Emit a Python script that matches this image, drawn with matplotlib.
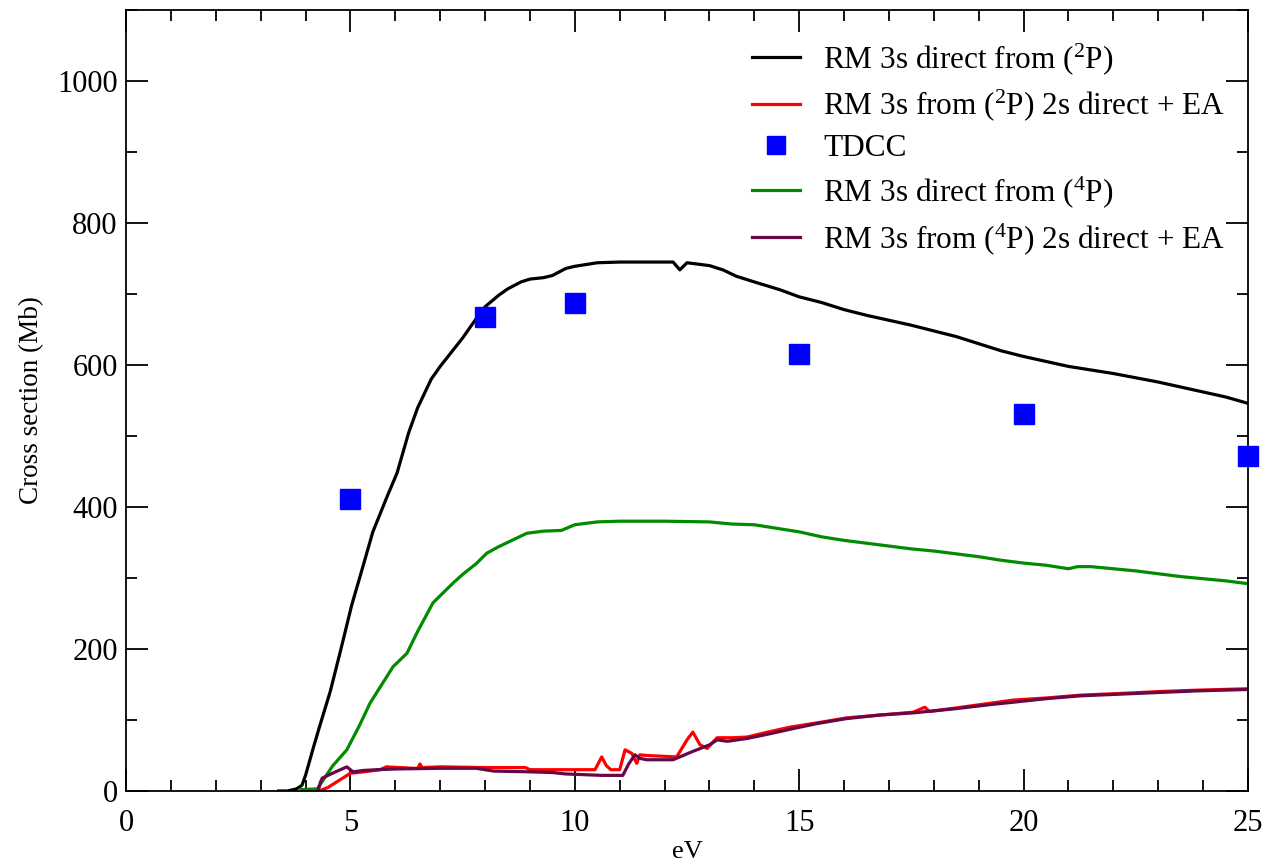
import matplotlib
matplotlib.use("Agg")
import matplotlib.pyplot as plt
from matplotlib.ticker import MultipleLocator

plt.rcParams['font.family'] = ['Liberation Serif', 'DejaVu Serif']
plt.rcParams['mathtext.fontset'] = 'custom'
plt.rcParams['mathtext.rm'] = 'Liberation Serif'
plt.rcParams['mathtext.it'] = 'Liberation Serif:italic'

# RM 3s direct from (2P)
black_x = [3.4, 3.6, 3.8, 3.92, 4.0, 4.17, 4.3, 4.55, 4.77, 5.03, 5.26, 5.5, 5.66, 5.8, 6.04, 6.3, 6.5,
           6.8, 7.0, 7.3, 7.5, 7.8, 8.0, 8.3, 8.5, 8.8, 9.0, 9.3, 9.5, 9.8, 10.0, 10.3, 10.5, 11.0,
           12.19, 12.34, 12.5, 13.0, 13.3, 13.6, 14.0, 14.57, 15.0, 15.5, 16.0, 16.5, 17.0, 17.5,
           18.0, 18.5, 19.0, 19.5, 20.0, 20.5, 21.0, 21.5, 22.0, 22.5, 23.0, 23.5, 24.0, 24.5, 25.0]
black_y = [0, 0, 3, 8, 22, 60, 88, 140, 195, 262, 312, 365, 390, 412, 448, 505, 540,
           580, 598, 622, 638, 665, 682, 698, 707, 717, 721, 723, 726, 736, 739, 742, 744, 745,
           745, 734, 744, 740, 734, 725, 717, 706, 696, 688, 678, 670, 663, 656,
           648, 640, 630, 620, 612, 605, 598, 593, 588, 582, 576, 569, 562, 555, 546]

# RM 3s from (2P) 2s direct + EA
red_x = [4.3, 4.5, 4.7, 5.0, 5.3, 5.66, 5.8, 6.1, 6.4, 6.5, 6.55, 6.6, 7.0, 8.0, 8.9, 9.0, 10.0,
         10.45, 10.6, 10.7, 10.8, 11.0, 11.12, 11.27, 11.38, 11.45, 11.6, 12.27, 12.5, 12.63, 12.79,
         12.95, 13.17, 13.5, 13.84, 14.3, 14.8, 15.4, 16.06, 16.8, 17.54, 17.8, 17.9, 18.5, 19.3,
         19.76, 20.5, 21.26, 22.37, 23.0, 23.86, 25.0]
red_y = [0, 5, 13, 25, 27, 30, 34, 33, 32, 32, 38, 33, 34, 33, 33, 30, 30,
         30, 48, 36, 30, 30, 58, 53, 39, 51, 50, 48, 72, 83, 65,
         60, 75, 75, 76, 83, 90, 96, 103, 107, 111, 118, 112, 117, 124,
         128, 131, 135, 138, 140, 142, 144]

# TDCC
tdcc_x = [5, 8, 10, 15, 20, 25]
tdcc_y = [411, 668, 688, 615, 531, 472]

# RM 3s direct from (4P)
green_x = [3.9, 4.26, 4.39, 4.6, 4.92, 5.2, 5.44, 5.7, 5.95, 6.26, 6.5, 6.84, 7.0, 7.29, 7.5,
           7.8, 8.04, 8.3, 8.5, 8.93, 9.3, 9.7, 10.0, 10.5, 11.0, 12.0, 13.0, 13.5, 14.0, 14.5,
           15.0, 15.5, 16.0, 16.5, 17.0, 17.5, 18.0, 18.5, 19.0, 19.5, 20.0, 20.5, 21.0, 21.2,
           21.5, 22.0, 22.5, 23.0, 23.5, 24.0, 24.5, 25.0]
green_y = [2, 3, 15, 35, 58, 92, 124, 150, 175, 194, 225, 265, 275, 293, 305,
           320, 335, 344, 350, 363, 366, 367, 375, 379, 380, 380, 379, 376, 375, 370,
           365, 358, 353, 349, 345, 341, 338, 334, 330, 325, 321, 318, 313, 316,
           316, 313, 310, 306, 302, 299, 296, 292]

# RM 3s from (4P) 2s direct + EA
purple_x = [4.28, 4.33, 4.37, 4.6, 4.92, 5.06, 5.3, 5.6, 6.0, 7.0, 7.8, 8.2, 9.0, 9.5, 9.8, 10.6,
            11.07, 11.2, 11.34, 11.45, 11.6, 12.19, 12.6, 13.0, 13.17, 13.4, 13.84, 14.3, 14.8,
            15.4, 16.06, 16.8, 17.54, 18.5, 19.3, 19.76, 20.5, 21.26, 22.37, 23.86, 25.0]
purple_y = [0, 12, 18, 25, 34, 27, 29, 30, 31, 32, 32, 28, 27, 26, 24, 22,
            22, 38, 51, 46, 44, 44, 55, 65, 72, 70, 74, 80, 87,
            95, 102, 107, 110, 116, 122, 125, 130, 134, 137, 141, 143]

labels = ['RM 3s direct from ($^2$P)', 'RM 3s from ($^2$P) 2s direct + EA', 'TDCC',
          'RM 3s direct from ($^4$P)', 'RM 3s from ($^4$P) 2s direct + EA']

fig = plt.figure(figsize=(12.66, 8.61), dpi=100)
ax = fig.add_axes([126/1266, 70/861, (1248-126)/1266, (791-10)/861])

lw = 2.3
ax.plot(black_x, black_y, color='black', lw=lw, label=labels[0])
ax.plot(red_x, red_y, color='#ff0000', lw=lw, label=labels[1])
ax.plot(tdcc_x, tdcc_y, ls='none', marker='s', ms=15, color='#0000ff', mec='#0000ff',
        label=labels[2], clip_on=False, zorder=5)
ax.plot(green_x, green_y, color='#008b00', lw=lw, label=labels[3])
ax.plot(purple_x, purple_y, color='#670748', lw=lw, label=labels[4])

ax.set_xlim(0, 25)
ax.set_ylim(0, 1100)
ax.xaxis.set_major_locator(MultipleLocator(5))
ax.xaxis.set_minor_locator(MultipleLocator(1))
ax.yaxis.set_major_locator(MultipleLocator(200))
ax.yaxis.set_minor_locator(MultipleLocator(100))
ax.tick_params(which='both', direction='in', top=True, right=True, width=1.3, labelsize=22)
ax.tick_params(which='major', length=16)
ax.tick_params(which='minor', length=8)
ax.tick_params(axis='x', which='major', pad=13)
ax.tick_params(axis='y', which='major', pad=6)
for s in ax.spines.values():
    s.set_linewidth(1.3)

ax.set_xlabel('eV', fontsize=19, labelpad=2)
ax.set_ylabel('Cross section (Mb)', fontsize=19.5, labelpad=9)

ax.legend(loc='upper left', bbox_to_anchor=(752/1266, 1 - 41/861), bbox_transform=fig.transFigure,
          frameon=False, fontsize=22.5, handlelength=1.54, handletextpad=0.74, labelspacing=0.35,
          borderpad=0, borderaxespad=0, markerscale=0.85)

fig.savefig('out.png', dpi=100)
